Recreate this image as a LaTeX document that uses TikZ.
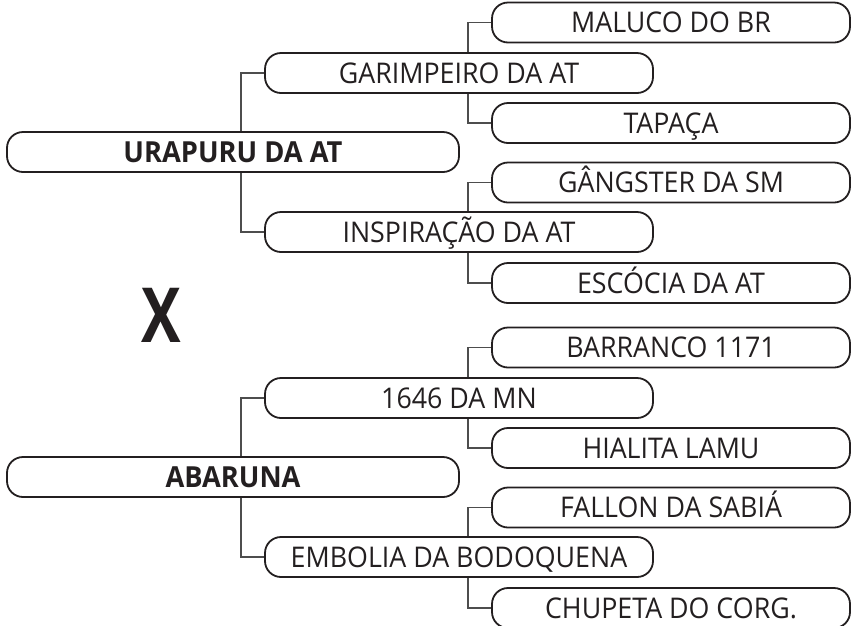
\documentclass[tikz,border=0pt]{standalone}
\usepackage{fontspec}
\setmainfont{Open Sans}[FakeStretch=0.94]
\newfontfamily\xfont{Open Sans}[FakeStretch=0.78]
\definecolor{ink}{HTML}{231F20}
\definecolor{connc}{HTML}{4D4D4D}
\begin{document}
\begin{tikzpicture}[x=1pt,y=-1pt,
  box/.style={draw=ink, text=ink, line width=1.8pt, rounded corners=16pt,
    minimum height=40pt, inner sep=0pt, text height=20pt, text depth=0pt,
    font=\fontsize{28.5}{30}\selectfont},
  lone/.style={box, minimum width=452pt, text height=21pt, font=\fontsize{29}{31}\selectfont\bfseries},
  ltwo/.style={box, minimum width=388pt},
  lthree/.style={box, minimum width=358pt},
  conn/.style={draw=connc, line width=1.2pt}]
\useasboundingbox (0,0) rectangle (851,625);
\fill[white] (0,0) rectangle (851,625);
% upper tree
\node[lone]   (U)   at (233,152)   {URAPURU DA AT};
\node[ltwo]   (G)   at (459,73)    {GARIMPEIRO DA AT};
\node[lthree] (MAL) at (671,22.5)  {MALUCO DO BR};
\node[lthree] (TAP) at (671,123)   {TAPAÇA};
\node[ltwo]   (INS) at (459,232)   {INSPIRAÇÃO DA AT};
\node[lthree] (GAN) at (671,182.5) {GÂNGSTER DA SM};
\node[lthree] (ESC) at (671,283)   {ESCÓCIA DA AT};
% lower tree
\node[lone]   (AB)  at (233,477)   {ABARUNA};
\node[ltwo]   (N)   at (459,398)   {1646 DA MN};
\node[lthree] (BAR) at (671,347.5) {BARRANCO 1171};
\node[lthree] (HIA) at (671,448)   {HIALITA LAMU};
\node[ltwo]   (EMB) at (459,557)   {EMBOLIA DA BODOQUENA};
\node[lthree] (FAL) at (671,507.5) {FALLON DA SABIÁ};
\node[lthree] (CHU) at (671,608)   {CHUPETA DO CORG.};
% versus
\node[anchor=base, text=ink, inner sep=0pt, font=\fontsize{76}{80}\xfont\bfseries] (X) at (161,342) {X};
% connector columns
\coordinate (va) at (241,0);
\coordinate (vb) at (468,0);
\draw[conn] (va |- U.north) |- (G.west);
\draw[conn] (va |- U.south) |- (INS.west);
\draw[conn] (vb |- G.north) |- (MAL.west);
\draw[conn] (vb |- G.south) |- (TAP.west);
\draw[conn] (vb |- INS.north) |- (GAN.west);
\draw[conn] (vb |- INS.south) |- (ESC.west);
\draw[conn] (va |- AB.north) |- (N.west);
\draw[conn] (va |- AB.south) |- (EMB.west);
\draw[conn] (vb |- N.north) |- (BAR.west);
\draw[conn] (vb |- N.south) |- (HIA.west);
\draw[conn] (vb |- EMB.north) |- (FAL.west);
\draw[conn] (vb |- EMB.south) |- (CHU.west);
\end{tikzpicture}
\end{document}
